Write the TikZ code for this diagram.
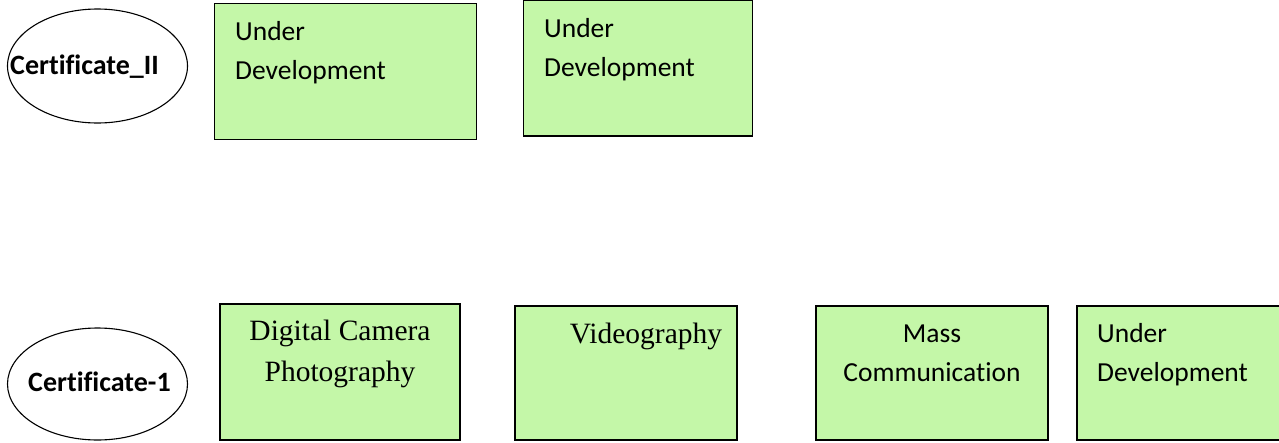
\documentclass[tikz,border=0pt]{standalone}
\usepackage{fontspec}
\setmainfont[Ligatures=NoCommon]{Carlito}
\newfontfamily\serifface{Liberation Serif}
\definecolor{boxgreen}{RGB}{196,247,168}
\tikzset{
  box/.style={draw=black, line width=1.3pt, fill=boxgreen, rectangle, inner sep=0pt},
  oval/.style={draw=black, line width=1.1pt, ellipse, inner sep=0pt},
  sanstext/.style={anchor=base west, inner sep=0pt, font=\fontsize{27.5}{39}\selectfont},
  seriftext/.style={anchor=base, inner sep=0pt, font=\serifface\fontsize{29.5}{41}\selectfont},
  boldtext/.style={anchor=base west, inner sep=0pt, font=\bfseries\fontsize{28}{30}\selectfont}
}
\usetikzlibrary{shapes.geometric}
\begin{document}
\begin{tikzpicture}[x=1pt,y=-1pt]
\useasboundingbox (0,0) rectangle (1279,442);
\begin{scope}
\clip (0,0) rectangle (1279,442);
% top row
\node[oval, minimum width=180pt, minimum height=114pt] (c2) at (97.5,66) {};
\node[boldtext] (c2t) at (10,74) {Certificate\_II};
\node[box, minimum width=262pt, minimum height=136pt] (b1) at (345.5,71.5) {};
\node[sanstext] (b1a) at (235,40) {Under};
\node[sanstext] (b1b) at (235,79) {Development};
\node[box, minimum width=229pt, minimum height=136pt] (b2) at (638,68) {};
\node[sanstext] (b2a) at (544,37) {Under};
\node[sanstext] (b2b) at (544,76) {Development};
% bottom row
\node[oval, minimum width=180pt, minimum height=112pt] (c1) at (97.5,384) {};
\node[boldtext] (c1t) at (28,391) {Certificate-1};
\node[box, minimum width=240pt, minimum height=136pt] (b3) at (340,372) {};
\node[seriftext] (b3a) at (340,340) {Digital Camera};
\node[seriftext] (b3b) at (340,381) {Photography};
\node[box, minimum width=222pt, minimum height=134pt] (b4) at (626,373) {};
\node[seriftext] (b4a) at (646,343) {Videography};
\node[box, minimum width=232pt, minimum height=134pt] (b5) at (932,373) {};
\node[sanstext, anchor=base] (b5a) at (932,342) {Mass};
\node[sanstext, anchor=base] (b5b) at (932,381) {Communication};
\node[box, minimum width=220pt, minimum height=134pt] (b6) at (1187,373) {};
\node[sanstext] (b6a) at (1097,342) {Under};
\node[sanstext] (b6b) at (1097,381) {Development};
\end{scope}
\end{tikzpicture}
\end{document}
